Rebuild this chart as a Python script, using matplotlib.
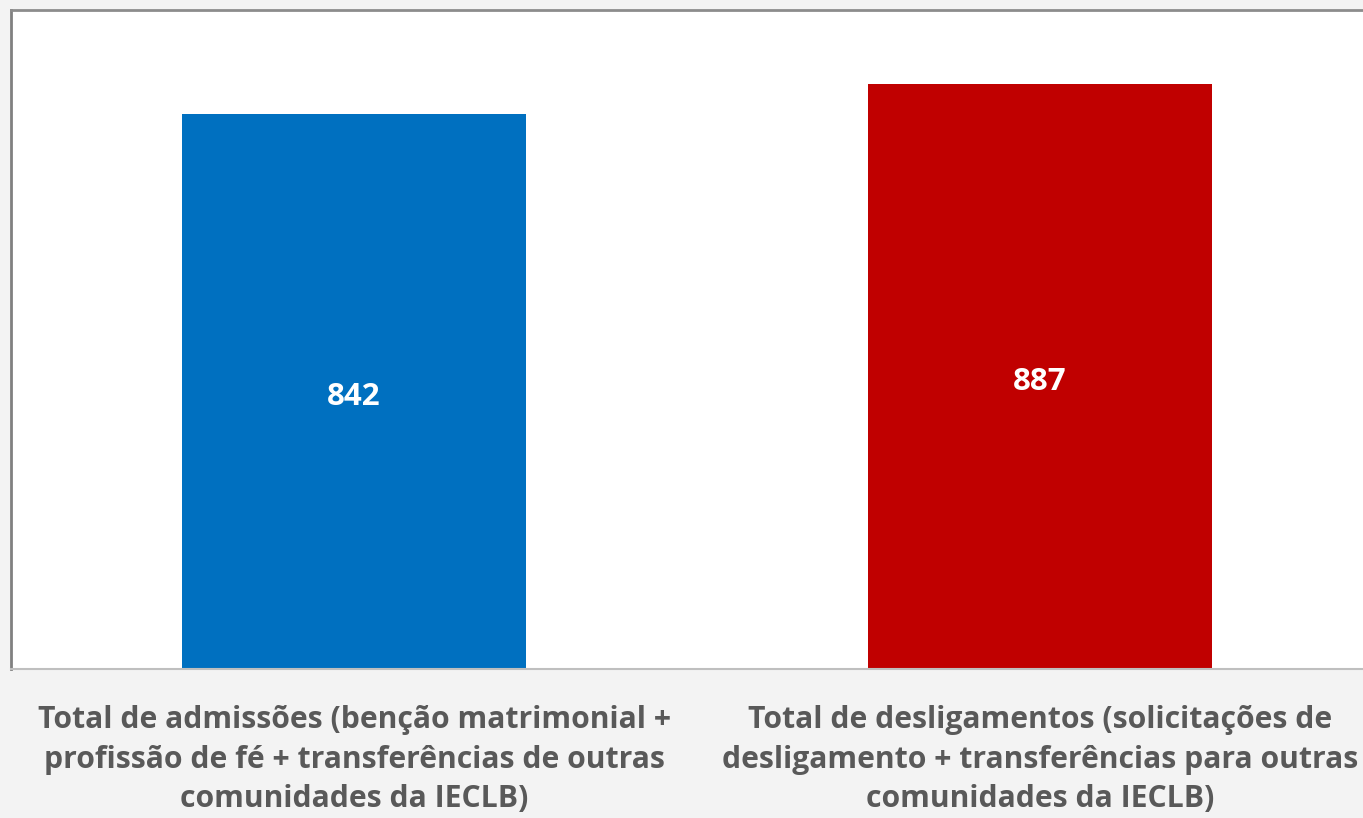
import matplotlib
matplotlib.use("Agg")
import matplotlib.pyplot as plt

categories = [
    "Total de admissões (benção matrimonial +\nprofissão de fé + transferências de outras\ncomunidades da IECLB)",
    "Total de desligamentos (solicitações de\ndesligamento + transferências para outras\ncomunidades da IECLB)",
]
values = [842, 887]
colors = ["#0070C0", "#C00000"]

plt.rcParams['font.family'] = ['Open Sans', 'DejaVu Sans']

W, H = 1363, 818
fig = plt.figure(figsize=(W / 100, H / 100), dpi=100)
fig.patch.set_facecolor("#F3F3F3")
ax = fig.add_axes([11 / W, (H - 669) / H, 1372 / W, 659 / H])
ax.set_facecolor("white")

x = list(range(len(values)))
bars = ax.bar(x, values, width=0.501, color=colors, zorder=2)
for xi, v in zip(x, values):
    ax.annotate(str(v), (xi, v / 2), xytext=(0, -3.6), textcoords="offset points",
                ha="center", va="center", color="white",
                fontsize=22.5, fontweight="bold")

ax.set_xlim(-0.5, 1.5)
ax.set_ylim(0, 1000)
ax.set_yticks([])
ax.set_xticks(x)
ax.set_xticklabels(categories, fontsize=21.7, fontweight="bold", color="#595959",
                   linespacing=1.41)
ax.tick_params(axis="x", length=0, pad=26)

ax.spines["left"].set_color("#808080")
ax.spines["left"].set_linewidth(2)
ax.spines["top"].set_color("#8C8C8C")
ax.spines["top"].set_linewidth(2)
ax.spines["bottom"].set_color("#BFBFBF")
ax.spines["bottom"].set_linewidth(1.5)
ax.spines["right"].set_visible(False)

fig.savefig("out.png", dpi=100, facecolor=fig.get_facecolor())
